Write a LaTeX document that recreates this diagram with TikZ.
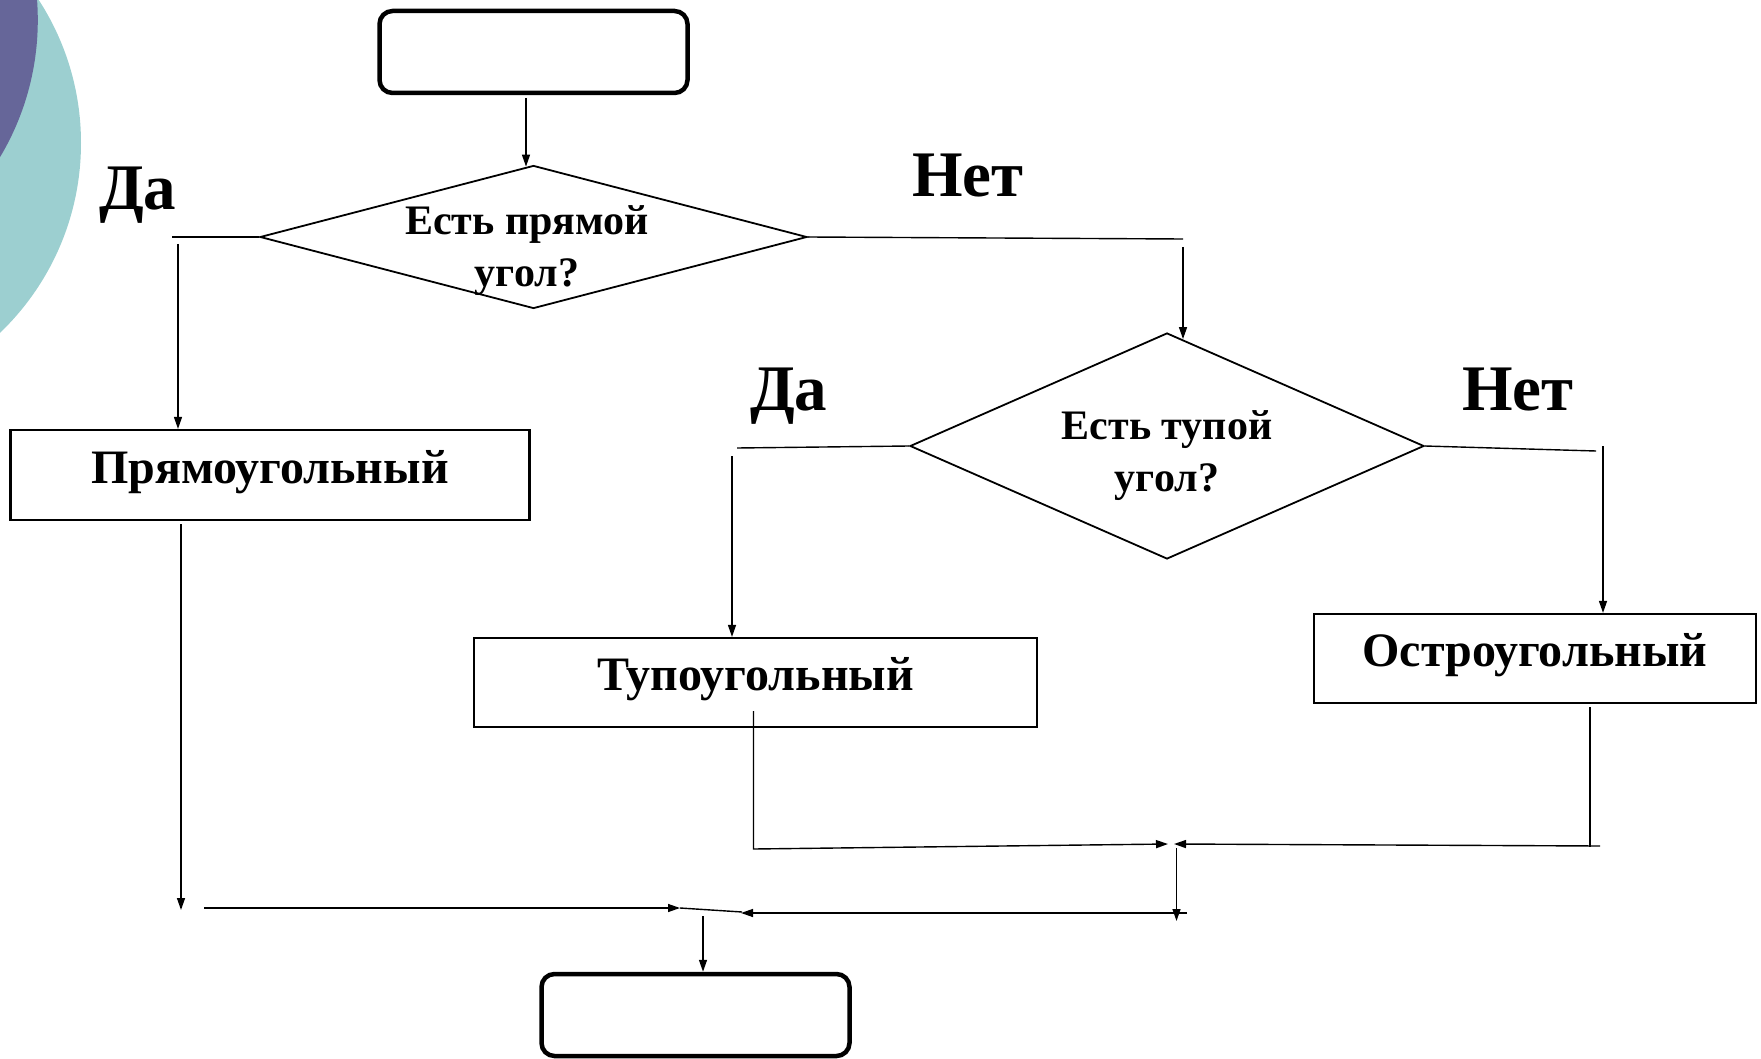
\documentclass[tikz,border=0pt]{standalone}
\usepackage{fontspec}
\setmainfont{Liberation Serif}
\usetikzlibrary{shapes.geometric,arrows.meta,calc}

\definecolor{discteal}{HTML}{9CCFD0}
\definecolor{discviolet}{HTML}{666699}

\begin{document}
\begin{tikzpicture}[x=1pt,y=-1pt,
  conn/.style={line width=1.4pt},
  arr/.style={conn,-{Triangle[length=12pt,width=8pt]}},
  terminal/.style={draw,line width=4.5pt,rounded corners=13pt,minimum width=308pt,minimum height=82pt,inner sep=0pt},
  decision/.style={draw,diamond,line width=1.8pt,inner sep=0pt},
  result/.style={draw,line width=2.2pt,inner sep=0pt,text height=36pt,text depth=20pt,font=\bfseries\fontsize{48}{56}\selectfont},
  qtext/.style={anchor=base,inner sep=0pt,font=\bfseries\fontsize{42}{50}\selectfont},
  answer/.style={anchor=base west,inner sep=0pt,font=\bfseries\fontsize{65}{72}\selectfont},
]
\useasboundingbox (0,0) rectangle (1761,1059);
\clip (0,0) rectangle (1761,1059);

% decorative discs in the corner
\fill[discteal] (-182,143) circle[radius=263pt];
\fill[discviolet] (-229.7,20) circle[radius=267.5pt];

% terminals
\node[terminal] (start) at (533.5,52) {};
\node[terminal] (finish) at (695.5,1015) {};

% decisions
\node[decision,minimum width=547pt,minimum height=143pt] (q1) at (533.5,237) {};
\node[qtext] (q1a) at (527,235) {Есть прямой};
\node[qtext] (q1b) at (527,287) {угол?};
\node[decision,minimum width=514pt,minimum height=226pt] (q2) at (1167,446) {};
\node[qtext] (q2a) at (1167,439) {Есть тупой};
\node[qtext] (q2b) at (1167,491) {угол?};

% branch labels
\node[answer] (yes1) at (99,210) {Да};
\node[answer] (no1) at (912,197) {Нет};
\node[answer] (yes2) at (750,410) {Да};
\node[answer] (no2) at (1462,410) {Нет};

% results
\node[result,minimum width=519pt,minimum height=90pt] (rbox) at (270,475) {Прямоугольный};
\node[result,minimum width=563pt,minimum height=89pt] (obox) at (755.5,682.5) {Тупоугольный};
\node[result,minimum width=442pt,minimum height=89pt] (abox) at (1535,658.5) {Остроугольный};

% start -> first question
\coordinate (sdrop) at (526,98);
\draw[arr] (sdrop) -- ($(q1.north)+(-7.5,2)$);

% first question, yes branch
\coordinate (y1end) at (172,237);
\draw[conn] (q1.west) -- (y1end);
\coordinate (y1drop) at (178,244);
\draw[arr] (y1drop) -- (y1drop |- rbox.north);

% first question, no branch
\coordinate (n1end) at (1183,239);
\draw[conn] (q1.east) -- (n1end);
\coordinate (n1drop) at (1183,247);
\draw[arr] (n1drop) -- ($(q2.north)+(16,7)$);

% second question, yes branch
\coordinate (y2end) at (737,448);
\draw[conn] (q2.west) -- (y2end);
\coordinate (y2drop) at (732,456);
\draw[arr] (y2drop) -- (y2drop |- obox.north);

% second question, no branch
\coordinate (n2end) at (1596,451);
\draw[conn] (q2.east) -- (n2end);
\coordinate (n2drop) at (1603,446);
\draw[arr] (n2drop) -- (n2drop |- abox.north);

% right-angled result down to the final junction
\coordinate (rdrop) at (181,524);
\coordinate (rfoot) at (181,910);
\draw[arr] (rdrop) -- (rfoot);
\coordinate (rrun) at (204,908);
\coordinate (rtip) at (680,908);
\coordinate (join) at (742,912);
\draw[arr] (rrun) -- (rtip);
\draw[conn] (rtip) -- (join);

% obtuse result to the middle junction
\coordinate (otop) at (753.5,711);
\coordinate (ocorner) at (753.5,849);
\coordinate (otip) at (1168,844);
\draw[arr] (otop) -- (ocorner) -- (otip);

% acute result to the middle junction
\coordinate (atop) at (1590,707);
\coordinate (afoot) at (1590,847);
\draw[conn] (atop) -- (afoot);
\coordinate (arun) at (1600,846);
\coordinate (atip) at (1174,844);
\draw[arr] (arun) -- (atip);

% middle junction down and back to the final junction
\coordinate (mtop) at (1176.5,848);
\coordinate (mfoot) at (1176.5,921);
\draw[arr] (mtop) -- (mfoot);
\coordinate (mrun) at (1187,913);
\coordinate (jtip) at (741,913);
\draw[arr] (mrun) -- (jtip);

% final junction -> end
\coordinate (fdrop) at (703,916);
\draw[arr] (fdrop) -- (fdrop |- finish.north);
\end{tikzpicture}
\end{document}
